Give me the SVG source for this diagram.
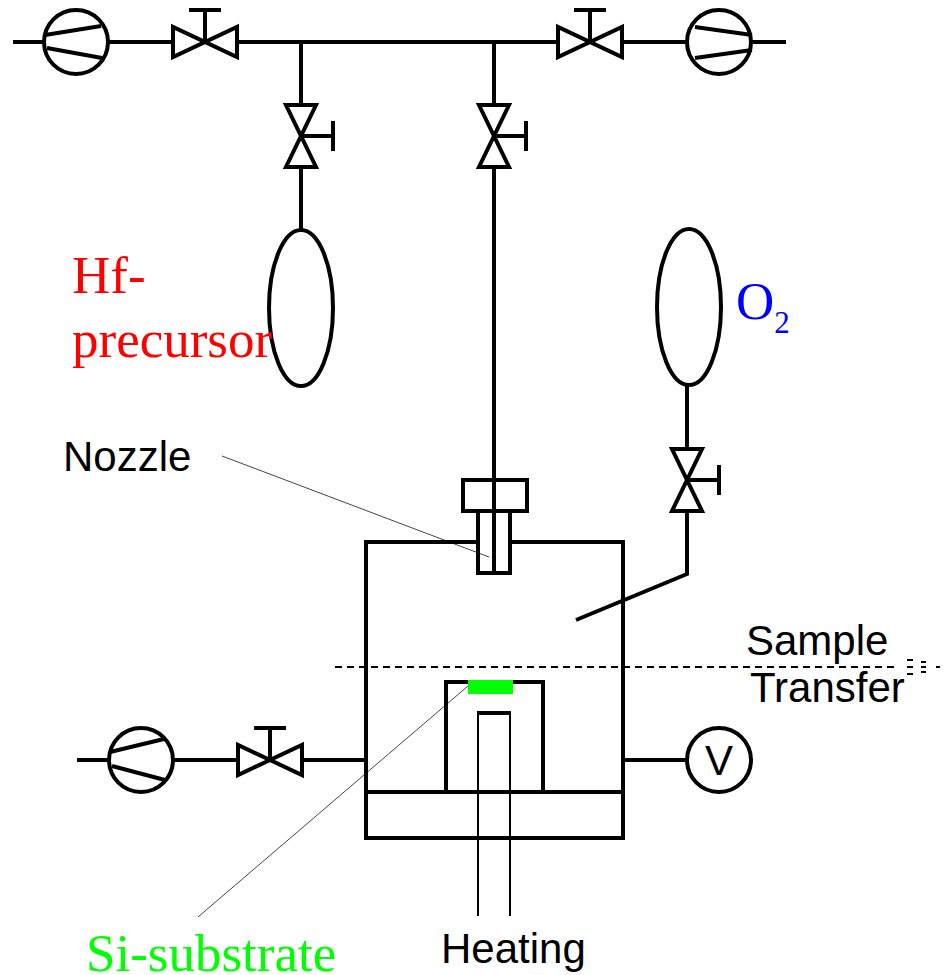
<svg xmlns="http://www.w3.org/2000/svg" width="949" height="975" viewBox="0 0 949 975">
<style>
.l{fill:none;stroke:#000;stroke-width:4;stroke-linejoin:miter}
.t{fill:none;stroke:#444;stroke-width:1}
.h{fill:none;stroke:#000;stroke-width:2}
.d{fill:none;stroke:#000;stroke-width:2}
.a{font-family:"Liberation Sans",Arial,sans-serif;font-size:42px;fill:#000}
.s{font-family:"Liberation Serif","Times New Roman",serif;font-size:53px}
</style>
<defs>
<g id="vh" class="l"><path d="M-32,-15V15L32,-15V15ZM0,0V-32M-16,-32H16"/></g>
<g id="vv" class="l"><path d="M-15,-31H15L-15,31H15ZM0,0H32M32,-15V15"/></g>
</defs>
<rect width="949" height="975" fill="#fff"/>
<g id="connectors">
<path class="l" d="M13,42H44M108,42H172M238,42H558M623,42H687M751,42H786"/>
<path class="l" d="M301,42V105M301,167V230"/>
<path class="l" d="M494,42V105M494,167V574"/>
<path class="l" d="M687,385V449M687,511V574L576,620"/>
<path class="l" d="M77,760H109M173,760H238M303,760H366"/>
<path class="l" d="M623,760H687"/>
<path class="t" d="M222,456L489,557"/>
<path class="t" d="M198,917L468,686"/>
<path class="d" d="M335,667H899" stroke-dasharray="7,5"/>
<path class="d" d="M907,660H913M907,667H913M907,674H913M921,662H926M921,667H926M921,672H926M936,667H940"/>
</g>
<g id="pump1"><circle class="l" cx="76" cy="42" r="32"/><path class="l" d="M45,35L101,26M47,48L102,58"/></g>
<g id="valve1"><use href="#vh" x="205" y="42"/></g>
<g id="valve2"><use href="#vv" x="301" y="136"/></g>
<g id="valve3"><use href="#vv" x="494" y="136"/></g>
<g id="valve4"><use href="#vh" x="590" y="42"/></g>
<g id="pump2"><circle class="l" cx="719" cy="42" r="32"/><path class="l" d="M695,27L752,35M695,58L752,50"/></g>
<g id="bottle1"><ellipse class="l" cx="301" cy="308" rx="32" ry="78"/></g>
<g id="bottle2"><ellipse class="l" cx="689" cy="307" rx="32" ry="78"/></g>
<g id="valve5"><use href="#vv" x="687" y="480"/></g>
<g id="chamber"><path class="l" d="M478,542H366V838H623V542H510M366,792H623"/></g>
<g id="nozzle"><rect class="l" x="463" y="480" width="64" height="31"/><path class="l" d="M478,511V573H510V511"/></g>
<g id="holder"><path class="l" d="M446,792V682H543V792"/></g>
<g id="heater"><path class="h" d="M478,713V916M510,713V916"/><path class="l" d="M477,713H511"/></g>
<g id="substrate"><rect x="468" y="680" width="45" height="14" fill="#0f0"/></g>
<g id="pump3"><circle class="l" cx="141" cy="760" r="32"/><path class="l" d="M110,752L164,739M112,766L165,780"/></g>
<g id="valve6"><use href="#vh" x="270" y="760"/></g>
<g id="gauge"><circle class="l" cx="719" cy="760" r="32"/><text class="a" x="719" y="775" text-anchor="middle">V</text></g>
<g id="labels">
<text class="s" x="72" y="293" fill="#f00">Hf-</text>
<text class="s" x="72" y="357" fill="#f00">precursor</text>
<text class="s" x="736" y="319" fill="#00f">O<tspan font-size="31" dy="14">2</tspan></text>
<text class="a" x="63" y="471">Nozzle</text>
<text class="a" x="746" y="655">Sample</text>
<text class="a" x="750" y="702">Transfer</text>
<text class="a" x="441" y="963">Heating</text>
<text class="s" x="86" y="971" fill="#0f0">Si-substrate</text>
</g>
</svg>
